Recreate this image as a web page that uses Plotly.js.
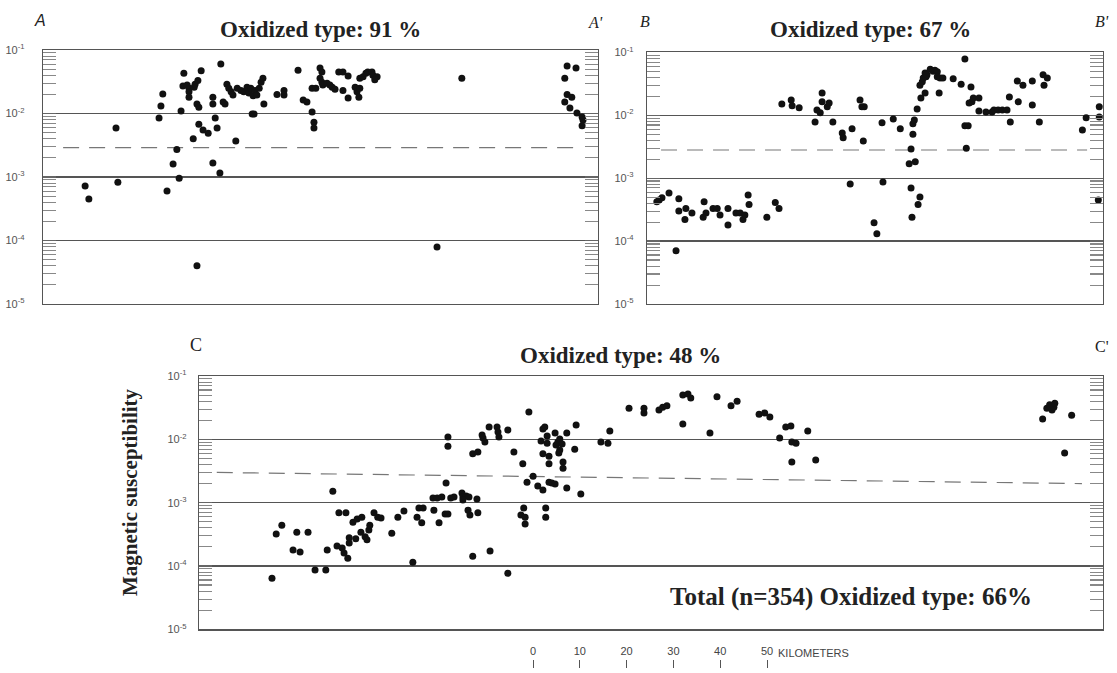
<!DOCTYPE html>
<html>
<head>
<meta charset="utf-8">
<script src="https://cdn.plot.ly/plotly-3.0.1.min.js"></script>
<style>html,body{margin:0;padding:0;background:#fff;}#chart{width:1117px;height:673px;}</style>
</head>
<body>
<div id="chart"></div>
<script>
// ---- Panel A (A - A'), distance along profile in km, magnetic susceptibility (SI)
const xA = [9.0,9.8,15.6,16.0,24.8,25.2,25.6,26.5,27.8,28.6,29.1,29.5,30.1,29.9,30.8,31.2,31.2,31.2,32.3,32.5,
  33.1,32.1,32.9,32.9,33.3,33.8,33.3,34.2,35.3,36.3,36.3,36.8,37.2,36.3,37.8,38.0,38.5,38.9,39.3,39.7,
  40.2,40.6,41.2,41.5,42.3,42.9,43.6,44.0,44.4,44.9,45.3,45.7,46.2,46.6,47.0,44.7,45.1,47.2,50.0,51.5,
  51.5,54.5,55.6,56.4,57.5,57.9,57.9,57.5,58.3,59.2,59.6,59.2,59.6,59.8,60.7,61.3,61.8,62.4,63.2,64.1,
  65.2,64.1,65.2,66.7,67.1,67.7,67.5,67.7,68.4,69.0,69.4,70.3,70.5,71.4,70.9,89.5,84.2,112.0,113.9,111.5,
  112.0,113.0,111.5,112.6,114.1,115.2,115.4,115.2];
const yA = [7.2e-4,4.5e-4,5.9e-3,8.3e-4,8.5e-3,1.31e-2,2.03e-2,6.0e-4,1.6e-3,2.7e-3,9.6e-4,1.09e-2,4.3e-2,2.7e-2,2.8e-2,2.5e-2,2.2e-2,1.8e-2,2.6e-2,2.9e-2,
  3.3e-2,4.0e-3,4.0e-5,1.41e-2,1.26e-2,4.7e-2,6.8e-3,5.5e-3,4.9e-3,1.8e-2,1.41e-2,8.5e-3,5.9e-3,1.66e-3,1.16e-3,6.0e-2,1.52e-2,1.41e-2,2.9e-2,2.5e-2,
  2.2e-2,1.95e-2,3.7e-3,2.5e-2,2.3e-2,2.2e-2,2.6e-2,2.1e-2,2.5e-2,1.9e-2,2.3e-2,1.95e-2,2.5e-2,3.1e-2,3.6e-2,9.8e-3,9.8e-3,1.41e-2,2.0e-2,2.3e-2,
  1.95e-2,4.8e-2,1.63e-2,1.52e-2,1.06e-2,7.3e-3,5.9e-3,2.5e-2,2.5e-2,5.2e-2,4.5e-2,3.6e-2,3.1e-2,2.8e-2,3.0e-2,2.8e-2,2.6e-2,2.4e-2,4.5e-2,4.5e-2,
  3.9e-2,2.3e-2,1.75e-2,2.6e-2,2.2e-2,2.5e-2,1.8e-2,3.6e-2,3.8e-2,4.3e-2,4.5e-2,4.5e-2,4.0e-2,3.8e-2,3.4e-2,3.6e-2,7.9e-5,5.6e-2,5.2e-2,3.6e-2,
  2.0e-2,1.8e-2,1.52e-2,1.22e-2,1.02e-2,8.8e-3,7.9e-3,6.4e-3];

// ---- Panel B (B - B')
const xB = [2.1,2.6,3.2,4.7,6.2,6.8,6.8,8.1,8.3,9.6,12.0,12.2,12.6,14.1,15.0,15.6,17.3,17.3,19.0,19.9,
  20.5,20.9,21.6,21.8,25.6,27.4,28.2,28.8,30.8,31.0,32.5,35.9,36.3,37.0,37.4,37.4,38.5,38.9,39.7,41.7,
  41.9,43.4,43.8,45.5,45.9,46.4,46.2,48.5,49.1,50.2,50.4,52.6,54.1,56.0,57.3,56.4,56.4,56.6,56.8,56.8,
  57.1,57.7,57.9,58.3,58.3,58.5,58.8,59.0,59.4,59.4,59.6,59.8,60.5,61.1,61.5,62.0,62.0,62.4,62.6,63.2,
  65.4,67.1,67.9,67.9,68.6,68.2,68.8,69.2,69.4,69.7,70.9,70.9,72.4,73.7,74.1,75.0,75.9,76.9,77.4,77.6,
  79.1,79.3,80.3,82.3,82.3,83.8,84.6,85.5,84.8,93.0,93.8,96.4,96.6,96.6];
const yB = [4.2e-4,4.5e-4,4.9e-4,5.8e-4,7.0e-5,4.7e-4,3.0e-4,2.2e-4,3.3e-4,2.8e-4,2.4e-4,4.2e-4,2.8e-4,3.3e-4,3.3e-4,2.6e-4,1.8e-4,3.3e-4,2.8e-4,2.8e-4,
  2.2e-4,2.6e-4,5.4e-4,3.8e-4,2.4e-4,4.1e-4,3.3e-4,1.51e-2,1.75e-2,1.41e-2,1.31e-2,7.8e-3,1.21e-2,1.09e-2,2.26e-2,1.63e-2,1.36e-2,1.57e-2,7.8e-3,5.2e-3,
  4.4e-3,8.1e-4,6.1e-3,1.75e-2,1.36e-2,1.36e-2,3.9e-3,1.95e-4,1.31e-4,7.6e-3,8.7e-4,8.7e-3,6.1e-3,1.69e-3,1.82e-3,2.9e-3,7.0e-4,2.4e-4,5.0e-3,7.3e-3,
  8.4e-3,1.26e-2,3.8e-4,5.0e-4,3.0e-2,1.88e-2,3.4e-2,3.9e-2,4.7e-2,2.26e-2,4.1e-2,4.4e-2,5.4e-2,5.0e-2,5.2e-2,4.9e-2,4.1e-2,2.26e-2,3.9e-2,3.9e-2,
  3.8e-2,3.1e-2,7.8e-2,6.8e-3,6.8e-3,3.0e-3,1.57e-2,2.8e-2,1.63e-2,1.88e-2,1.88e-2,1.17e-2,1.13e-2,1.13e-2,1.21e-2,1.21e-2,1.21e-2,1.21e-2,1.95e-2,7.8e-3,
  3.5e-2,1.63e-2,3.0e-2,3.5e-2,1.46e-2,7.8e-3,4.4e-2,3.9e-2,3.0e-2,5.8e-3,9.1e-3,4.5e-4,1.36e-2,9.4e-3];

// ---- Panel C (C - C')
const xC = [15.6,16.5,17.7,20.1,20.9,21.6,23.3,24.8,27.1,27.4,28.6,29.5,30.6,31.0,31.8,29.9,31.4,32.1,32.1,32.9,
  33.8,34.8,33.5,34.6,35.5,35.9,36.3,36.5,37.4,38.2,38.9,41.2,42.5,43.8,45.7,46.6,47.6,47.0,47.9,50.2,
  51.3,50.0,50.9,51.9,52.6,53.2,52.8,53.2,53.2,53.8,54.5,56.2,56.4,57.1,57.7,56.4,59.4,57.5,57.9,59.6,
  58.5,58.5,59.6,60.5,60.7,61.1,62.0,62.2,63.7,63.9,64.1,66.0,66.0,67.3,69.2,70.1,70.5,71.4,72.4,73.5,
  69.4,68.8,69.7,69.7,73.5,73.9,73.1,74.4,74.4,73.5,74.8,74.8,74.8,75.4,76.1,74.1,74.1,76.1,76.3,76.7,
  77.1,77.6,77.1,76.9,77.8,77.8,78.6,78.6,80.6,80.3,81.6,85.9,87.4,87.8,91.9,95.1,95.1,98.3,99.1,100.0,
  103.4,104.5,105.1,103.4,109.2,110.7,113.7,115.0,119.7,120.9,122.0,124.1,125.4,126.5,126.7,127.6,126.7,130.1,131.8,180.3,
  181.2,181.8,182.3,182.7,182.9,185.0,186.5];
const yC = [6.4e-5,3.2e-4,4.4e-4,1.78e-4,3.4e-4,1.66e-4,3.4e-4,8.6e-5,8.6e-5,1.78e-4,1.52e-3,2.06e-4,1.92e-4,1.6e-4,1.33e-4,6.9e-4,6.9e-4,2.8e-4,2.3e-4,4.9e-4,
  5.5e-4,5.9e-4,2.7e-4,3.4e-4,2.9e-4,2.6e-4,3.7e-4,4.4e-4,6.9e-4,5.9e-4,5.7e-4,3.3e-4,5.9e-4,7.4e-4,1.15e-4,5.9e-4,4.8e-4,8.2e-4,8.2e-4,7.6e-4,
  4.8e-4,1.18e-3,1.18e-3,1.23e-3,6.6e-4,6.6e-4,2.04e-3,1.09e-2,7.8e-3,1.18e-3,1.23e-3,1.42e-3,1.23e-3,1.27e-3,1.23e-3,1.1e-3,1.14e-3,7.6e-4,6.4e-4,6.9e-4,
  1.43e-4,5.9e-3,6.3e-3,1.17e-2,1.05e-2,9.1e-3,1.56e-2,1.72e-4,1.56e-2,1.30e-2,1.09e-2,7.7e-5,1.40e-2,6.3e-3,4.1e-3,2.1e-3,2.7e-2,2.6e-3,1.83e-3,1.58e-3,
  8.2e-4,6.4e-4,5.9e-4,4.6e-4,1.46e-2,1.56e-2,9.4e-3,8.7e-3,1.13e-2,5.9e-3,5.4e-3,4.1e-3,2.1e-3,2.04e-3,1.97e-3,8.2e-4,5.9e-4,1.26e-2,8.1e-3,9.1e-3,
  1.01e-2,8.4e-3,6.8e-3,6.1e-3,4.4e-3,3.5e-3,1.26e-2,1.70e-3,1.68e-2,7.0e-3,1.37e-3,9.1e-3,8.7e-3,1.35e-2,3.1e-2,3.1e-2,2.6e-2,2.9e-2,3.2e-2,3.4e-2,
  5.0e-2,5.2e-2,4.5e-2,1.75e-2,1.26e-2,4.7e-2,3.4e-2,4.0e-2,2.5e-2,2.6e-2,2.25e-2,1.05e-2,1.56e-2,1.62e-2,9.1e-3,8.7e-3,4.4e-3,1.35e-2,4.7e-3,2.1e-2,
  3.1e-2,3.5e-2,2.9e-2,3.2e-2,3.7e-2,6.1e-3,2.4e-2];

// ---- dashed reference lines (oxidized / reduced boundary)
const refAx = [4.3, 114.1], refAy = [2.9e-3, 2.9e-3];
const refBx = [3.0, 94.0],  refBy = [2.8e-3, 2.8e-3];
const refCx = [3.8, 188.7], refCy = [3.0e-3, 2.0e-3];

// ---- tick labels
const decadeVals = [1e-5, 1e-4, 1e-3, 1e-2, 1e-1];
const decadeText = ['10<sup>-5</sup>','10<sup>-4</sup>','10<sup>-3</sup>','10<sup>-2</sup>','10<sup>-1</sup>'];
const kmVals = [0, 10, 20, 30, 40, 50];
const kmText = ['0', '10', '20', '30', '40', '50'];

// ---- panel extents (km)
const lenA = 118.6, lenB = 97.4, lenC = 193.2;

const W = 1117, H = 673;
const px = v => v / W, py = v => 1 - v / H;

function pts(x, y, xa, ya) {
  return {type:'scatter', mode:'markers', x:x, y:y, xaxis:xa, yaxis:ya,
    marker:{color:'#111', size:7, line:{width:0}}, hoverinfo:'x+y', showlegend:false};
}
function ref(x, y, xa, ya) {
  return {type:'scatter', mode:'lines', x:x, y:y, xaxis:xa, yaxis:ya,
    line:{color:'#777', width:1.2, dash:'16px,10px'}, hoverinfo:'skip', showlegend:false};
}

const data = [
  ref(refAx, refAy, 'x', 'y'), pts(xA, yA, 'x', 'y'),
  ref(refBx, refBy, 'x2', 'y2'), pts(xB, yB, 'x2', 'y2'),
  ref(refCx, refCy, 'x3', 'y3'), pts(xC, yC, 'x3', 'y3'),
  {type:'scatter', mode:'markers', x:[kmVals[0], kmVals[kmVals.length-1]], y:[0, 0], xaxis:'x4', yaxis:'y4',
   marker:{opacity:0}, hoverinfo:'skip', showlegend:false}
];

function xax(dom, len, anchor) {
  return {domain:dom, range:[0, len], anchor:anchor, showline:true, mirror:true, linecolor:'#555', linewidth:1.3,
    showgrid:false, zeroline:false, showticklabels:false, ticks:'', fixedrange:true};
}
function yax(dom, anchor, standoff) {
  return {domain:dom, type:'log', range:[-5, -1], anchor:anchor, showline:true, mirror:'allticks',
    linecolor:'#555', linewidth:1.3, ticks:'inside', ticklen:13, tickwidth:1.2, tickcolor:'#666',
    tickmode:'array', tickvals:decadeVals, ticktext:decadeText, ticklabelstandoff:standoff,
    tickfont:{family:'Liberation Sans, Arial, sans-serif', size:11, color:'#555'},
    showgrid:true, gridcolor:'#555', gridwidth:1.3, zeroline:false,
    minor:{ticks:'inside', ticklen:13, tickwidth:1.1, tickcolor:'#888', dtick:'D1', showgrid:false},
    fixedrange:true};
}

const serif = 'Liberation Serif, Times New Roman, serif';
const sans = 'Liberation Sans, Arial, sans-serif';
function ann(text, x, y, size, family, extra) {
  return Object.assign({text:text, x:px(x), y:py(y), xref:'paper', yref:'paper', showarrow:false,
    font:{family:family, size:size, color:'#222'}, xanchor:'center', yanchor:'middle'}, extra || {});
}

// scale bar: 0 km at x=533 px, 50 km at x=767 px (4.68 px per km); pad 2 km on each side
const kmPad = 2, pxPerKm = 4.68;

const layout = {
  width:W, height:H, margin:{l:0, r:0, t:0, b:0}, paper_bgcolor:'#fff', plot_bgcolor:'#fff', showlegend:false,
  xaxis: xax([px(43), px(598)], lenA, 'y'),
  yaxis: yax([py(304), py(50)], 'x', 15),
  xaxis2: xax([px(647), px(1103)], lenB, 'y2'),
  yaxis2: yax([py(304), py(52.3)], 'x2', 10),
  xaxis3: xax([px(199), px(1103)], lenC, 'y3'),
  yaxis3: yax([py(629.3), py(376)], 'x3', 9),
  xaxis4: {domain:[px(533 - kmPad * pxPerKm), px(767 + kmPad * pxPerKm)], range:[-kmPad, 50 + kmPad],
    anchor:'y4', side:'top', showline:false, showgrid:false,
    zeroline:false, ticks:'inside', ticklen:8, tickwidth:1, tickcolor:'#555', tickmode:'array',
    tickvals:kmVals, ticktext:kmText, ticklabelstandoff:2,
    tickfont:{family:sans, size:11, color:'#444'}, fixedrange:true},
  yaxis4: {domain:[0, py(660)], anchor:'x4', visible:false, range:[-1, 1], fixedrange:true},
  annotations: [
    ann('<i>A</i>', 40, 20, 16, sans),
    ann("<i>A'</i>", 595, 23, 16, serif),
    ann('<i>B</i>', 645, 22, 16, serif),
    ann("<i>B'</i>", 1102, 22, 16, serif),
    ann('C', 196, 345, 18, serif),
    ann("C'", 1102, 347, 16, serif),
    ann('<b>Oxidized type: 91 %</b>', 320, 30, 23, serif),
    ann('<b>Oxidized type: 67 %</b>', 870, 30, 23, serif),
    ann('<b>Oxidized type: 48 %</b>', 620, 355, 23, serif),
    ann('<b>Total (n=354) Oxidized type: 66%</b>', 851, 597, 25, serif),
    ann('<b>Magnetic susceptibility</b>', 130, 492, 21, serif, {textangle:-90}),
    ann('KILOMETERS', 776, 653, 11, sans, {xanchor:'left', font:{family:sans, size:11, color:'#444'}})
  ]
};

Plotly.newPlot('chart', data, layout, {staticPlot:true, displayModeBar:false});
</script>
</body>
</html>
